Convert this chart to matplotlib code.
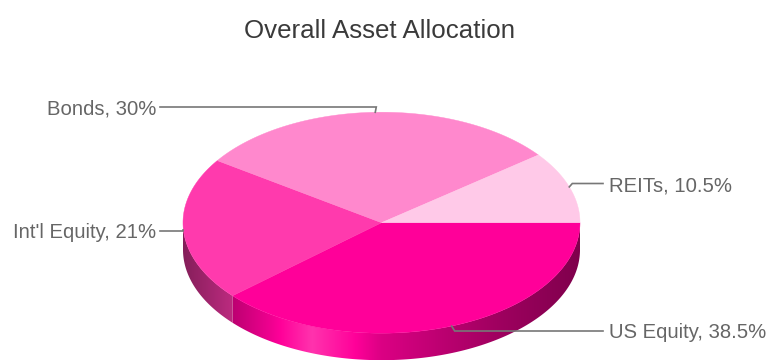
import matplotlib
matplotlib.use("Agg")
import matplotlib.pyplot as plt
import numpy as np
from matplotlib.colors import to_rgb
from matplotlib.patches import Polygon

plt.rcParams["font.family"] = ["Liberation Sans", "DejaVu Sans"]

# ---------------------------------------------------------------------------
# data
# ---------------------------------------------------------------------------
categories = ["US Equity", "Int'l Equity", "Bonds", "REITs"]
shares = [38.5, 21.0, 30.0, 10.5]
slice_colors = ["#ff0099", "#ff3aad", "#ff88cd", "#ffc9e8"]
title = "Overall Asset Allocation"

# ---------------------------------------------------------------------------
# layout (pixel units, y down)
# ---------------------------------------------------------------------------
W, H = 771, 360
cx, cy = 381.5, 222.7          # centre of the top face
rx, ry = 198.5, 110.5          # ellipse radii of the top face
depth = 27.0                   # thickness of the disc
label_y = {"US Equity": 331, "Int'l Equity": 230.5, "Bonds": 107, "REITs": 183.5}
left_text_x, right_text_x = 156, 609


def edge(t):
    t = np.radians(t)
    return cx + rx * np.cos(t), cy - ry * np.sin(t)


def side_shade(x):
    """darken (<0) / lighten (>0) amount along the rim, like a lit cylinder"""
    u = (x - cx) / rx
    knots = [-1.0, -0.75, -0.55, -0.35, -0.15, 0.0, 0.2, 0.6, 1.0]
    vals = [-0.48, -0.26, -0.05, 0.20, 0.02, -0.14, -0.22, -0.38, -0.50]
    return np.interp(u, knots, vals)


def shaded_row(color, xs):
    c = np.array(to_rgb(color))[None, :]
    s = side_shade(xs)[:, None]
    return np.where(s >= 0, c + (1 - c) * s, c * (1 + s))


fig = plt.figure(figsize=(W / 100, H / 100), dpi=100)
ax = fig.add_axes([0, 0, 1, 1])
ax.set_xlim(0, W)
ax.set_ylim(H, 0)
ax.axis("off")

# slice angles, clockwise from 3 o'clock
bounds = []
start = 0.0
for s in shares:
    end = start - 360.0 * s / sum(shares)
    bounds.append((start, end))
    start = end

# rim: only the front half (-180..0 deg) is visible
xg = np.linspace(cx - rx - 2, cx + rx + 2, 600)
for (a0, a1), col in zip(bounds, slice_colors):
    for shift in (0.0, 360.0, -360.0):
        lo = max(min(a0, a1) + shift, -180.0)
        hi = min(max(a0, a1) + shift, 0.0)
        if hi <= lo:
            continue
        ts = np.linspace(lo, hi, 200)
        top = [edge(t) for t in ts]
        bot = [(x, y + depth) for x, y in top[::-1]]
        rim = Polygon(top + bot, closed=True, facecolor="none", edgecolor="none")
        ax.add_patch(rim)
        img = shaded_row(col, xg)[None, :, :]
        im = ax.imshow(img, extent=(xg[0], xg[-1], cy + ry + depth + 2, cy - 2),
                       aspect="auto", interpolation="bilinear", zorder=1)
        im.set_clip_path(rim)

# top face
for (a0, a1), col in zip(bounds, slice_colors):
    ts = np.linspace(a0, a1, 200)
    pts = [(cx, cy)] + [edge(t) for t in ts]
    ax.add_patch(Polygon(pts, closed=True, facecolor=col, edgecolor=col,
                         lw=0.3, zorder=2))

# leader lines and labels
for (a0, a1), name, s in zip(bounds, categories, shares):
    mid = (a0 + a1) / 2
    px, py = edge(mid)
    ly = label_y[name]
    txt = f"{name}, {s:g}%"
    if px < cx:
        xs = [left_text_x + 4, px if abs(py - ly) < 2 else px + 1, px]
        ys = [ly, ly, py]
        ax.text(left_text_x, ly + 7.5, txt, ha="right", va="baseline",
                fontsize=14.6, color="#666666", zorder=4)
    else:
        xs = [px, px + 3, right_text_x - 6]
        ys = [py, ly, ly]
        ax.text(right_text_x, ly + 7.5, txt, ha="left", va="baseline",
                fontsize=14.6, color="#666666", zorder=4)
    ax.plot(xs, ys, color="#777777", lw=1.2, solid_joinstyle="miter", zorder=3)

ax.text(380, 38.5, title, ha="center", va="baseline", fontsize=18.6, color="#3a3a3a")

ax.set_xlim(0, W)
ax.set_ylim(H, 0)
fig.savefig("out.png", dpi=100)
